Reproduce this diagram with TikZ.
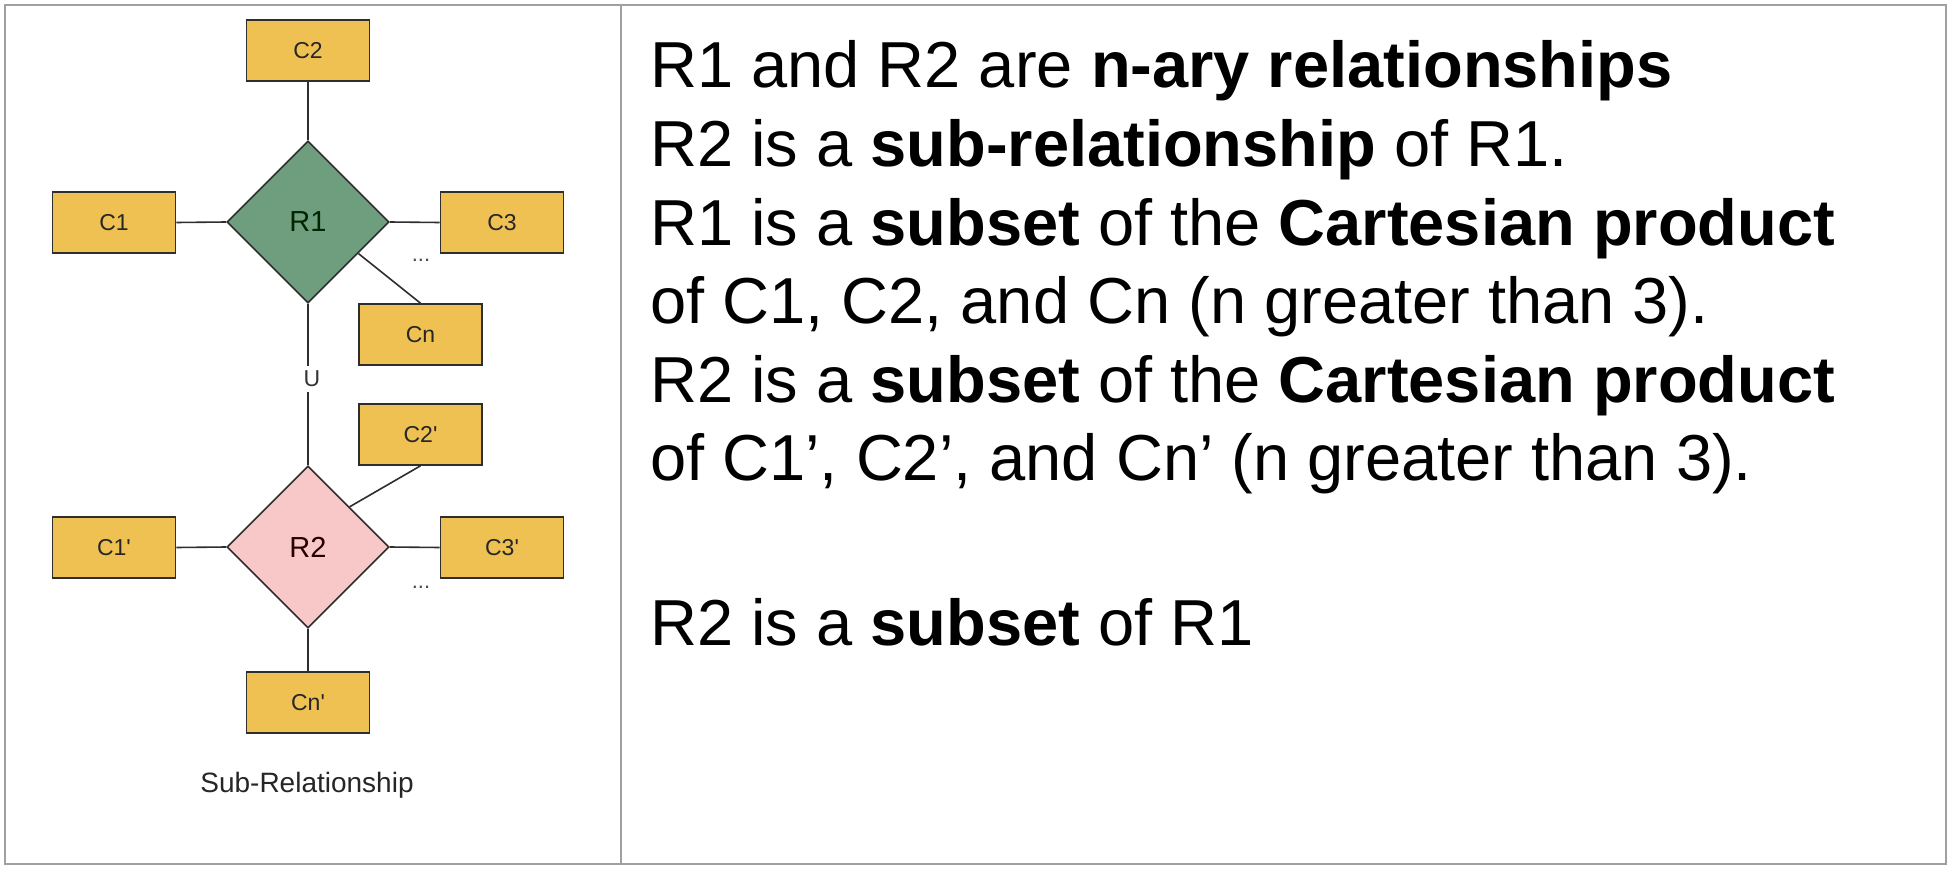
\documentclass[tikz,border=0pt]{standalone}
\usepackage{fontspec}
\setmainfont{Liberation Sans}
\usetikzlibrary{shapes.geometric}
\definecolor{boxfill}{HTML}{EFC052}
\definecolor{greenfill}{HTML}{6F9E7F}
\definecolor{pinkfill}{HTML}{F8C8C8}
\definecolor{edgecol}{HTML}{2E2E2E}
\definecolor{framecol}{HTML}{A0A0A0}
\tikzset{
  cls/.style={rectangle, draw=edgecol, fill=boxfill, line width=1.6pt,
    minimum width=123pt, minimum height=61pt, inner sep=0pt,
    text=black!85, font=\fontsize{23}{26}\selectfont},
  rel/.style={diamond, aspect=1, draw=edgecol, line width=1.6pt,
    minimum width=162pt, minimum height=162pt, inner sep=0pt,
    font=\fontsize{29}{32}\selectfont},
  conn/.style={draw=edgecol, line width=1.6pt},
  dots/.style={font=\fontsize{22}{24}\selectfont, text=black!70, anchor=base, inner sep=0pt},
  line/.style={anchor=base west, inner sep=0pt, font=\fontsize{65}{78}\selectfont}
}
\begin{document}
\begin{tikzpicture}[x=1pt, y=-1pt]
\useasboundingbox (0,0) rectangle (1952,872);
\fill[white] (0,0) rectangle (1952,872);
% frame
\draw[framecol, line width=2.5pt] (5,5) rectangle (1946,864);
\draw[framecol, line width=2pt] (621,5) -- (621,864);
% relationships
\node[rel, fill=greenfill, text=black!85!green] (R1) at (308,222) {R1};
\node[rel, fill=pinkfill, text=black!85!red] (R2) at (308,547) {R2};
% classes
\node[cls] (C2) at (308,50.5) {C2};
\node[cls] (C1) at (114,222.5) {C1};
\node[cls] (C3) at (502,222.5) {C3};
\node[cls] (Cn) at (420.5,334.5) {Cn};
\node[cls] (C2p) at (420.5,434.5) {C2\textquotesingle};
\node[cls] (C1p) at (114,547.5) {C1\textquotesingle};
\node[cls] (C3p) at (502,547.5) {C3\textquotesingle};
\node[cls] (Cnp) at (308,702.5) {Cn\textquotesingle};
% dots
\node[dots] (d1) at (421,261) {...};
\node[dots] (d2) at (421,588) {...};
% U label
\node[font=\fontsize{23}{26}\selectfont, text=black!80, inner sep=0pt] (U) at (312,379) {U};
% connectors
\draw[conn] (C2.south) -- (R1.north);
\draw[conn] (C1.east) -- (R1.west);
\draw[conn] (R1.east) -- (C3.west);
\draw[conn] (R1.-32) -- (Cn.north);
\draw[conn] (R1.south) -- (R1.south |- 0,366);
\draw[conn] (R2.north |- 0,392) -- (R2.north);
\draw[conn] (R2.44) -- (C2p.south);
\draw[conn] (C1p.east) -- (R2.west);
\draw[conn] (R2.east) -- (C3p.west);
\draw[conn] (R2.south) -- (Cnp.north);
% caption
\node[font=\fontsize{28}{30}\selectfont, text=black!85] (cap) at (307,785) {Sub-Relationship};
% right column text
\node[line] (t1) at (650,88) {R1 and R2 are \textbf{n-ary relationships}};
\node[line] (t2) at (650,166.5) {R2 is a \textbf{sub-relationship} of R1.};
\node[line] (t3) at (650,245) {R1 is a \textbf{subset} of the \textbf{Cartesian product}};
\node[line] (t4) at (650,323.5) {of C1, C2, and Cn (n greater than 3).};
\node[line] (t5) at (650,402) {R2 is a \textbf{subset} of the \textbf{Cartesian product}};
\node[line] (t6) at (650,480.5) {of C1’, C2’, and Cn’ (n greater than 3).};
\node[line] (t7) at (650,645) {R2 is a \textbf{subset} of R1};
\end{tikzpicture}
\end{document}
